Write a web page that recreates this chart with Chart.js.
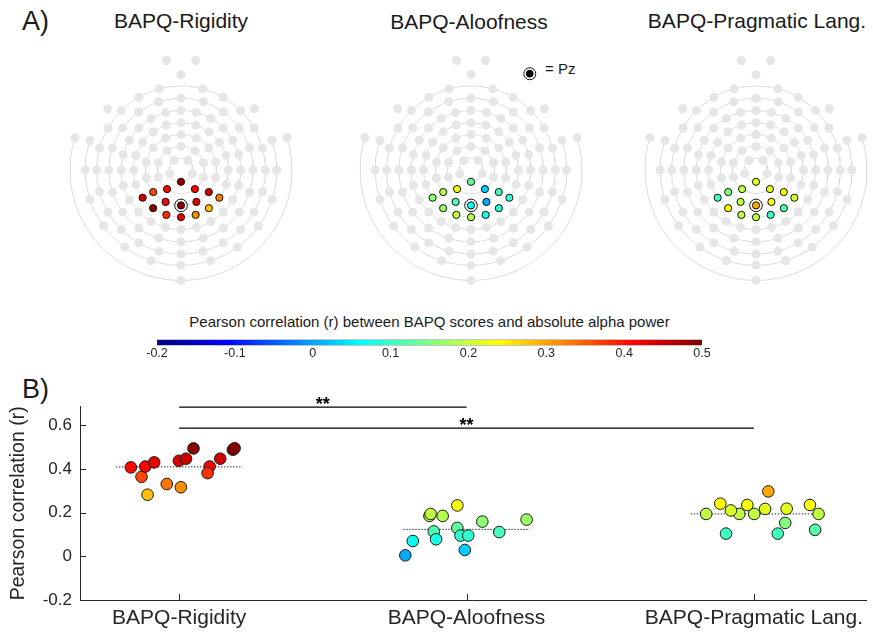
<!DOCTYPE html>
<html>
<head>
<meta charset="utf-8">
<script src="https://cdn.jsdelivr.net/npm/chart.js@4.4.0/dist/chart.umd.min.js"></script>
<style>
body { margin: 0; background: #fff; }
#fig { position: relative; width: 873px; height: 634px; overflow: hidden;
       font-family: "Liberation Sans", Arial, Helvetica, sans-serif; color: #1a1a1a; }
canvas { position: absolute; }
.txt { position: absolute; white-space: nowrap; line-height: 1; }
.mid { transform: translateX(-50%); }
</style>
</head>
<body>
<div id="fig">
    <div class="txt" style="left:22px;top:8px;font-size:27px">A)</div>
    <div class="txt" style="left:22px;top:376px;font-size:27px">B)</div>

    <div class="txt mid" id="t0" style="left:181px;top:10px;font-size:21px"></div>
    <div class="txt mid" id="t1" style="left:469px;top:11px;font-size:21px"></div>
    <div class="txt mid" id="t2" style="left:757px;top:10px;font-size:21px"></div>
    <div class="txt" style="left:545px;top:61px;font-size:15px">= Pz</div>

    <div class="txt mid" style="left:429.5px;top:313.5px;font-size:15px">Pearson correlation (r) between BAPQ scores and absolute alpha power</div>

    <canvas id="topo0" width="280" height="260" style="left:41px;top:40px"></canvas>
    <canvas id="topo1" width="280" height="260" style="left:331px;top:40px"></canvas>
    <canvas id="topo2" width="280" height="260" style="left:616px;top:40px"></canvas>
    <canvas id="cbar" width="585" height="40" style="left:137px;top:330px"></canvas>
    <canvas id="scatter" width="873" height="264" style="left:0;top:370px"></canvas>
</div>
<script>
const conditions = ['BAPQ-Rigidity', 'BAPQ-Aloofness', 'BAPQ-Pragmatic Lang.'];

// posterior electrode cluster: ring number and angle (deg, clockwise from the nose)
const clusterRing  = [1, 2, 2, 3, 3, 3, 3, 3, 4, 4, 4, 4, 4, 4, 4];
const clusterAngle = [180, 216, 144, 231.43, 205.71, 180, 154.29, 128.57, 234, 216, 198, 180, 162, 144, 126];
const pzIndex = 5;

// r per electrode (same order as the cluster)
const rigidityR  = [0.488, 0.407, 0.411, 0.364, 0.411, 0.494, 0.4375, 0.447, 0.447, 0.495, 0.381, 0.430, 0.316, 0.282, 0.331];
const aloofnessR = [0.130, 0.233, 0.029, 0.185, 0.114, 0.070, 0.0046, 0.111, 0.159, 0.168, 0.194, 0.185, 0.078, 0.095, 0.095];
const pragmaticR = [0.218, 0.194, 0.217, 0.153, 0.194, 0.297, 0.235, 0.235, 0.104, 0.241, 0.194, 0.194, 0.104, 0.121, 0.210];

// horizontal jitter of each dot in panel B
const rigidityJitter  = [0.187, -0.168, 0.106, -0.131, -0.118, 0.050, -0.001, 0.143, 0.024, 0.193, 0.099, -0.087, 0.006, -0.110, -0.043];
const aloofnessJitter = [-0.032, -0.032, -0.006, -0.129, -0.114, -0.187, -0.213, 0.114, 0.055, 0.209, -0.125, -0.083, -0.106, -0.021, 0.006];
const pragmaticJitter = [0.114, -0.051, 0.039, 0.109, 0.001, 0.050, -0.023, 0.195, 0.083, -0.117, 0.225, -0.166, -0.097, 0.213, -0.080];

const cMin = -0.2, cMax = 0.5;
const cbarTicks = [-0.2, -0.1, 0, 0.1, 0.2, 0.3, 0.4, 0.5];
const yTicks = [-0.2, 0, 0.2, 0.4, 0.6];

// significance bars
const sigPairs   = [[1, 2], [1, 3]];
const sigHeights = [0.683, 0.587];
const sigLabels  = ['**', '**'];

// electrode montage (rings)
function evenly(n, start, skip) {
    const out = [];
    for (let k = 0; k < n; k++) {
        const a = (start + k * 360 / n) % 360;
        if (skip && skip.some(s => Math.abs(s - a) < 0.5)) continue;
        out.push(a);
    }
    return out;
}
const ringRadius = [12.5, 25, 37.5, 50, 63, 76, 89, 101, 117];
const ringAngles = [
    evenly(5, 36),
    evenly(10, 0, [180]),
    evenly(14, 180),
    evenly(20, 0),
    evenly(24, 0),
    evenly(20, 0),
    evenly(24, 0, [0]),
    [0, 50, 72, 90, 108, 126, 144, 162, 180, 198, 216, 234, 252, 270, 288, 310],
    [7.5, 73, 180, 287, 352.5]
];
const ringArc = [[0, 360], [0, 360], [0, 360], [0, 360], [0, 360], [0, 360], [0, 360], [70, 290], [73, 287]];

const FONT = '"Liberation Sans", Arial, Helvetica, sans-serif';
const AXIS = '#262626';
Chart.defaults.font.family = FONT;
Chart.defaults.color = AXIS;

function jet(v) {
    const t = Math.min(1, Math.max(0, (v - cMin) / (cMax - cMin)));
    const f = k => Math.round(255 * Math.min(1, Math.max(0, 1.5 - Math.abs(4 * t - k))));
    return 'rgb(' + f(3) + ',' + f(2) + ',' + f(1) + ')';
}

function pos(r, a) {
    const rad = a * Math.PI / 180;
    return { x: r * Math.sin(rad), y: r * Math.cos(rad) };
}

function topoChart(id, values, withLegend) {
    const datasets = [];

    const colored = values.map((v, i) => pos(ringRadius[clusterRing[i] - 1], clusterAngle[i]));
    datasets.push({
        data: colored,
        pointRadius: 3.6,
        pointBackgroundColor: values.map(jet),
        pointBorderColor: '#111',
        pointBorderWidth: 1,
        order: 0
    });

    const pz = [colored[pzIndex]];
    datasets.push({
        data: pz,
        pointRadius: 6.3,
        pointBackgroundColor: '#fff',
        pointBorderColor: '#111',
        pointBorderWidth: 1,
        order: 1
    });

    if (withLegend) {
        datasets.push({
            data: [{ x: 62, y: 102 }],
            pointRadius: 3.4,
            pointBackgroundColor: '#000',
            pointBorderColor: '#000',
            pointBorderWidth: 1,
            order: 0
        });
        datasets.push({
            data: [{ x: 62, y: 102 }],
            pointRadius: 6,
            pointBackgroundColor: '#fff',
            pointBorderColor: '#111',
            pointBorderWidth: 1,
            order: 1
        });
    }

    const gray = [];
    ringAngles.forEach((angles, ri) => {
        angles.forEach(a => {
            const taken = clusterRing.some((cr, i) => cr - 1 === ri && Math.abs(clusterAngle[i] - a) < 0.5);
            if (!taken) gray.push(pos(ringRadius[ri], a));
        });
    });
    datasets.push({
        data: gray,
        pointRadius: 4.5,
        pointBackgroundColor: '#e6e6e6',
        pointBorderWidth: 0,
        order: 2
    });

    ringRadius.forEach((r, ri) => {
        const pts = [];
        for (let a = ringArc[ri][0]; a <= ringArc[ri][1]; a += 3) pts.push(pos(r, a));
        datasets.push({
            data: pts,
            showLine: true,
            pointRadius: 0,
            borderColor: '#dcdcdc',
            borderWidth: 1,
            order: 3
        });
    });

    new Chart(document.getElementById(id), {
        type: 'scatter',
        data: { datasets: datasets },
        options: {
            responsive: false,
            animation: false,
            events: [],
            layout: { padding: 0 },
            plugins: { legend: { display: false }, tooltip: { enabled: false } },
            scales: {
                x: { min: -140, max: 140, display: false },
                y: { min: -130, max: 130, display: false }
            }
        }
    });
}

conditions.forEach((c, i) => document.getElementById('t' + i).textContent = c);
topoChart('topo0', rigidityR, false);
topoChart('topo1', aloofnessR, true);
topoChart('topo2', pragmaticR, false);

// colour bar
new Chart(document.getElementById('cbar'), {
    type: 'bar',
    data: {
        labels: ['r'],
        datasets: [{
            data: [[cMin, cMax]],
            backgroundColor: (ctx) => {
                const chart = ctx.chart;
                if (!chart.chartArea) return '#888';
                const xs = chart.scales.x;
                const g = chart.ctx.createLinearGradient(xs.getPixelForValue(cMin), 0, xs.getPixelForValue(cMax), 0);
                [0, 0.125, 0.375, 0.625, 0.875, 1].forEach(t => g.addColorStop(t, jet(cMin + t * (cMax - cMin))));
                return g;
            },
            borderColor: '#333',
            borderWidth: 0.8,
            borderSkipped: false,
            barPercentage: 1,
            categoryPercentage: 1
        }]
    },
    options: {
        indexAxis: 'y',
        responsive: false,
        animation: false,
        events: [],
        layout: { padding: { left: 20, right: 20, top: 9.5, bottom: 0 } },
        plugins: { legend: { display: false }, tooltip: { enabled: false } },
        scales: {
            x: {
                min: cMin, max: cMax,
                afterBuildTicks: s => { s.ticks = cbarTicks.map(v => ({ value: v })); },
                afterFit: s => { s.height = 24.5; },
                grid: { display: false, drawTicks: false },
                border: { display: false },
                ticks: { padding: 1, font: { size: 12.5 }, color: AXIS, callback: v => String(v) }
            },
            y: { display: false }
        }
    }
});

// panel B
const series = [
    { r: rigidityR, jitter: rigidityJitter },
    { r: aloofnessR, jitter: aloofnessJitter },
    { r: pragmaticR, jitter: pragmaticJitter }
];
const bDatasets = [];
series.forEach((s, k) => {
    bDatasets.push({
        data: s.r.map((v, i) => ({ x: k + 1 + s.jitter[i], y: v })),
        pointRadius: 5.8,
        pointBackgroundColor: s.r.map(jet),
        pointBorderColor: '#1a1a1a',
        pointBorderWidth: 1,
        order: 0
    });
    const mean = s.r.reduce((a, b) => a + b, 0) / s.r.length;
    bDatasets.push({
        data: [{ x: k + 1 - 0.22, y: mean }, { x: k + 1 + 0.22, y: mean }],
        showLine: true,
        pointRadius: 0,
        borderColor: '#333',
        borderWidth: 1,
        borderDash: [1.5, 1.5],
        order: 2
    });
});
sigPairs.forEach((p, i) => {
    bDatasets.push({
        data: [{ x: p[0], y: sigHeights[i] }, { x: p[1], y: sigHeights[i] }],
        showLine: true,
        pointRadius: 0,
        borderColor: '#000',
        borderWidth: 1.3,
        clip: false,
        order: 1
    });
});

const decor = {
    id: 'decor',
    afterDraw(chart) {
        const { ctx, scales: { x, y }, chartArea } = chart;
        ctx.save();
        ctx.strokeStyle = AXIS;
        ctx.lineWidth = 1;
        ctx.beginPath();
        y.ticks.forEach(t => {
            const py = Math.round(y.getPixelForValue(t.value)) + 0.5;
            ctx.moveTo(chartArea.left, py);
            ctx.lineTo(chartArea.left + 6, py);
        });
        x.ticks.forEach(t => {
            const px = Math.round(x.getPixelForValue(t.value)) + 0.5;
            ctx.moveTo(px, chartArea.bottom);
            ctx.lineTo(px, chartArea.bottom - 6);
        });
        ctx.stroke();
        ctx.fillStyle = '#000';
        ctx.font = 'bold 18px ' + FONT;
        ctx.textAlign = 'center';
        ctx.textBaseline = 'alphabetic';
        sigPairs.forEach((p, i) => {
            const px = x.getPixelForValue((p[0] + p[1]) / 2);
            const py = y.getPixelForValue(sigHeights[i]);
            ctx.fillText(sigLabels[i], px, py + 3);
        });
        ctx.restore();
    }
};

new Chart(document.getElementById('scatter'), {
    type: 'scatter',
    data: { datasets: bDatasets },
    plugins: [decor],
    options: {
        responsive: false,
        animation: false,
        events: [],
        layout: { padding: { top: 36.7, right: 7, left: 0, bottom: 0 } },
        plugins: { legend: { display: false }, tooltip: { enabled: false } },
        scales: {
            x: {
                min: 0.655, max: 3.39,
                afterBuildTicks: s => { s.ticks = conditions.map((c, i) => ({ value: i + 1 })); },
                afterFit: s => { s.height = 34; },
                grid: { display: false, drawTicks: false },
                border: { display: true, color: AXIS, width: 1 },
                ticks: {
                    padding: 6, font: { size: 21 }, color: AXIS, maxRotation: 0, autoSkip: false,
                    callback: v => conditions[Math.round(v) - 1]
                }
            },
            y: {
                min: -0.2, max: 0.685,
                afterBuildTicks: s => { s.ticks = yTicks.map(v => ({ value: v })); },
                afterFit: s => { s.width = 80; },
                grid: { display: false, drawTicks: false },
                border: { display: true, color: AXIS, width: 1 },
                ticks: { padding: 8, font: { size: 17 }, color: AXIS, callback: v => String(v) },
                title: {
                    display: true, text: 'Pearson correlation (r)', color: AXIS,
                    font: { size: 19.5 }, padding: { top: 7, bottom: 0 }
                }
            }
        }
    }
});
</script>
</body>
</html>
